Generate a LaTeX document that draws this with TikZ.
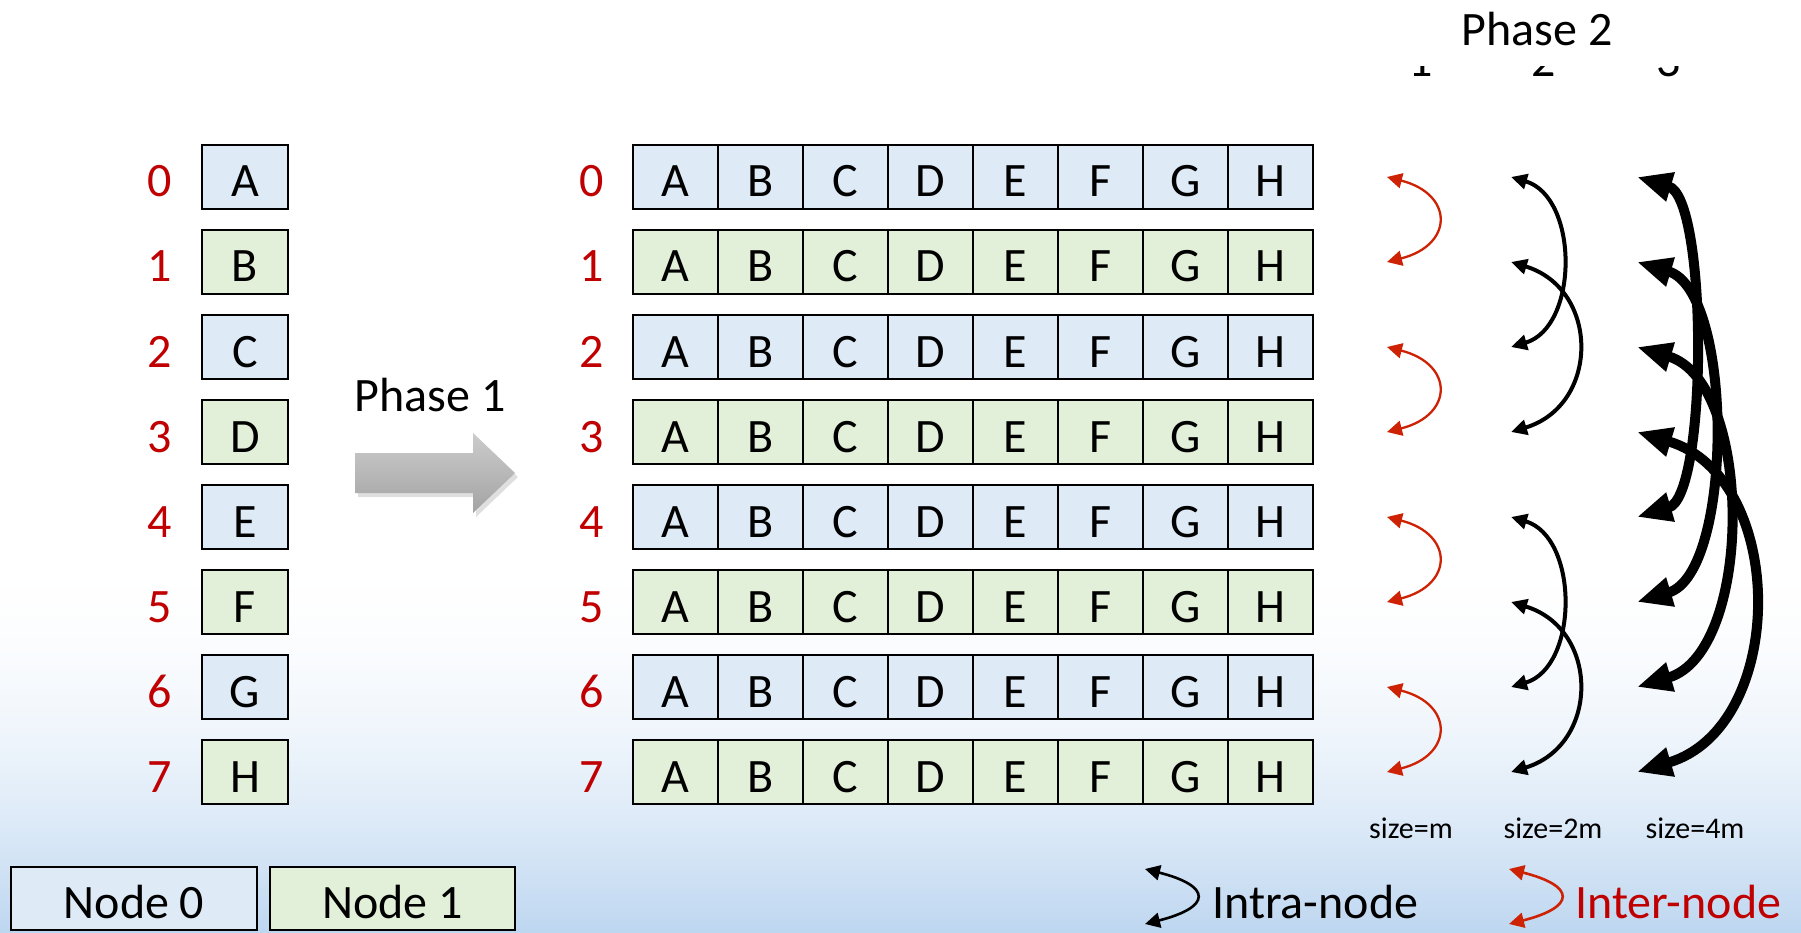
\documentclass[tikz,border=0pt]{standalone}
\usepackage{fontspec}
\setmainfont{Carlito}
\usetikzlibrary{arrows.meta,shadows}
\definecolor{nodeblue}{RGB}{222,235,247}
\definecolor{nodegreen}{RGB}{226,240,217}
\definecolor{rankred}{RGB}{192,0,0}
\definecolor{arrowred}{RGB}{206,34,4}
\definecolor{bgblue}{RGB}{189,214,240}
\begin{document}
\begin{tikzpicture}[x=1pt,y=-1pt,
  bigfont/.style={font=\fontsize{48}{56}\selectfont},
  smallfont/.style={font=\fontsize{30}{36}\selectfont},
  cell/.style={draw=black, line width=2.5pt, minimum width=85pt, minimum height=64pt,
    inner sep=0pt, bigfont, text height=40pt, text depth=0pt},
  rank/.style={text=rankred, bigfont, inner sep=0pt, text height=40pt, text depth=0pt},
  legendbox/.style={draw=black, line width=2.5pt, minimum height=63pt, inner sep=0pt,
    bigfont, text height=40pt, text depth=0pt},
  redswap/.style={draw=arrowred, line width=2.3pt,
    arrows={Triangle[length=15pt,width=15pt]-Triangle[length=15pt,width=15pt]}},
  pairswap/.style={draw=black, line width=4pt,
    arrows={Triangle[length=16pt,width=15pt]-Triangle[length=16pt,width=15pt]}},
  quadswap/.style={draw=black, line width=10pt,
    arrows={Triangle[length=35pt,width=28pt]-Triangle[length=35pt,width=28pt]}},
  legendswap/.style={line width=2.6pt,
    arrows={Triangle[length=15pt,width=15pt]-Triangle[length=15pt,width=15pt]}},
]
\useasboundingbox (0,0) rectangle (1801,933);

% background: white, fading to light blue towards the bottom edge (thin bands)
\fill[white] (0,0) rectangle (1801,933);
\foreach \i in {0,...,124}{
  \pgfmathsetmacro{\bandy}{560+3*\i}
  \pgfmathsetmacro{\bandp}{100*((\i+0.5)/125)^1.8}
  \colorlet{bandcol}{bgblue!\bandp!white}
  \fill[bandcol] (0,\bandy) rectangle (1801,{\bandy+3.6});
}

% initial data: one block per rank
\foreach \r/\cf/\l in {0/nodeblue/A,1/nodegreen/B,2/nodeblue/C,3/nodegreen/D,
                       4/nodeblue/E,5/nodegreen/F,6/nodeblue/G,7/nodegreen/H}{
  \node[rank] (lr\r) at (160,{177+85*\r}) {\r};
  \node[cell, minimum width=86pt, fill=\cf] (s\r) at (245,{177+85*\r}) {\l};
  \node[rank] (mr\r) at (592,{177+85*\r}) {\r};
  \foreach \c [count=\k from 0] in {A,B,C,D,E,F,G,H}{
    \node[cell, fill=\cf] (g\r\c) at ({675.5+85*\k},{177+85*\r}) {\c};
  }
}

% phase 1 arrow
\node[bigfont, inner sep=0pt] (ph1) at (430,395) {Phase 1};
\path[top color=black!20, bottom color=black!36, draw=none,
      drop shadow={shadow xshift=3pt, shadow yshift=-4pt, opacity=0.25}]
  (355,453) -- (473,453) -- (473,433) -- (515,473) -- (473,513) -- (473,493) -- (355,493) -- cycle;

% phase 2 heading and step numbers (only their feet show)
\node[bigfont, inner sep=0pt] (ph2) at (1537,29) {Phase 2};
\begin{scope}
  \clip (1380,67) rectangle (1720,80);
  \node[bigfont, inner sep=0pt, anchor=base] (st1) at (1421,77) {1};
  \node[bigfont, inner sep=0pt, anchor=base] (st2) at (1544,77) {2};
  \node[bigfont, inner sep=0pt, anchor=base] (st3) at (1669,77) {3};
\end{scope}

% exchange end points
\foreach \r in {0,...,7}{
  \coordinate (a\r) at (1387,{177+85*\r});
  \coordinate (b\r) at (1511,{177+85*\r});
  \coordinate (c\r) at (1637,{177+85*\r});
}

% step 1: size=m, inter-node
\foreach \i/\j in {0/1,2/3,4/5,6/7}{
  \draw[redswap] (a\i) .. controls +(67,17) and +(67,-17) .. (a\j);
}
% step 2: size=2m, intra-node
\foreach \i/\j in {0/2,4/6}{
  \draw[pairswap] (b\i) .. controls +(68,20) and +(68,-20) .. (b\j);
}
\foreach \i/\j in {1/3,5/7}{
  \draw[pairswap] (b\i) .. controls +(89,27) and +(89,-27) .. (b\j);
}
% step 3: size=4m, intra-node
\draw[quadswap] (c0) .. controls +(71,21) and +(71,-21) .. (c4);
\draw[quadswap] (c1) .. controls +(97,29) and +(97,-29) .. (c5);
\draw[quadswap] (c2) .. controls +(117,35) and +(117,-35) .. (c6);
\draw[quadswap] (c3) .. controls +(151,45) and +(151,-45) .. (c7);

% message sizes
\node[smallfont, inner sep=0pt, anchor=base] (sz1) at (1411,838) {size=m};
\node[smallfont, inner sep=0pt, anchor=base] (sz2) at (1553,838) {size=2m};
\node[smallfont, inner sep=0pt, anchor=base] (sz3) at (1695,838) {size=4m};

% legend
\node[legendbox, minimum width=246pt, fill=nodeblue] (n0) at (134,898.5) {Node 0};
\node[legendbox, minimum width=245pt, fill=nodegreen] (n1) at (392.5,898.5) {Node 1};

\coordinate (li0) at (1145,869);
\coordinate (li1) at (1145,924);
\draw[legendswap, draw=black] (li0) .. controls +(67,17) and +(67,-17) .. (li1);
\node[bigfont, inner sep=0pt, anchor=base west] (intra) at (1212,918) {Intra-node};

\coordinate (le0) at (1509,869);
\coordinate (le1) at (1509,924);
\draw[legendswap, draw=arrowred] (le0) .. controls +(67,17) and +(67,-17) .. (le1);
\node[bigfont, inner sep=0pt, anchor=base west, text=rankred] (inter) at (1575,918) {Inter-node};
\end{tikzpicture}
\end{document}
